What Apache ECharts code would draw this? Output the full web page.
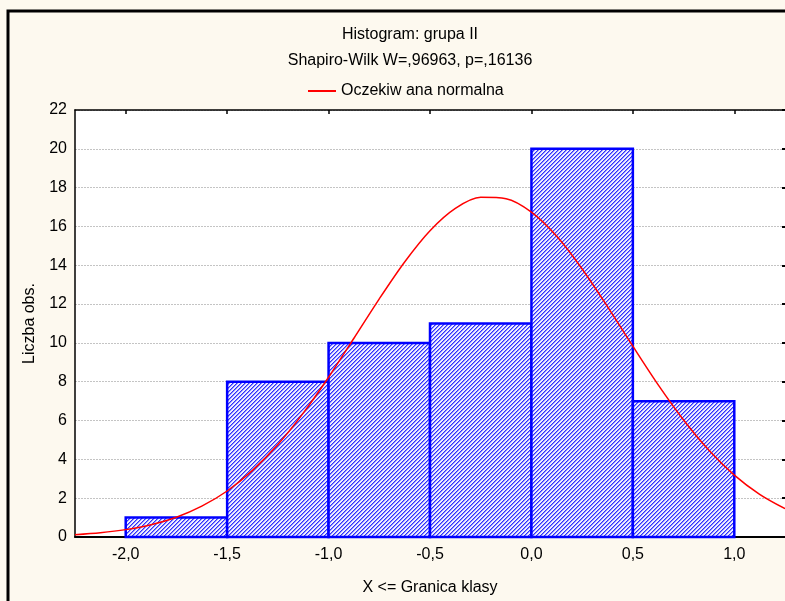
<!DOCTYPE html>
<html>
<head>
<meta charset="utf-8">
<script src="https://cdn.jsdelivr.net/npm/echarts@6/dist/echarts.min.js"></script>
<style>
html, body { margin: 0; padding: 0; background: #fdf9ef; }
#chart1 { width: 785px; height: 601px; }
</style>
</head>
<body>
<div id="chart1"></div>
<script>
// histogram classes (upper bound = "granica klasy")
var binStarts = [-2.0, -1.5, -1.0, -0.5, 0.0, 0.5];
var binEnds = [-1.5, -1.0, -0.5, 0.0, 0.5, 1.0];
var counts = [1, 8, 10, 11, 20, 7];

// expected normal curve
var curveX = [-2.25, -2.125, -2.0, -1.875, -1.75, -1.625, -1.5, -1.375, -1.25, -1.125, -1.0, -0.875,
    -0.75, -0.625, -0.5, -0.375, -0.25, -0.125, 0.0, 0.125, 0.25, 0.375, 0.5, 0.625, 0.75, 0.875,
    1.0, 1.125, 1.25];
var curveY = [0.12, 0.22, 0.38, 0.63, 1.02, 1.59, 2.37, 3.43, 4.76, 6.38, 8.23, 10.24,
    12.27, 14.17, 15.78, 16.93, 17.50, 17.43, 16.74, 15.49, 13.81, 11.87, 9.83, 7.84, 6.03, 4.47,
    3.19, 2.20, 1.46];

var xTicks = [-2.0, -1.5, -1.0, -0.5, 0.0, 0.5, 1.0];
var yTicks = [0, 2, 4, 6, 8, 10, 12, 14, 16, 18, 20, 22];

var chart1 = echarts.init(document.getElementById('chart1'));

// diagonal hatch fill
function makeHatch() {
    var c = document.createElement('canvas');
    c.width = 4;
    c.height = 4;
    var ctx = c.getContext('2d');
    ctx.fillStyle = '#eeeeff';
    ctx.fillRect(0, 0, 4, 4);
    for (var y = 0; y < 4; y++) {
        ctx.fillStyle = '#2f2fff';
        ctx.fillRect((3 - y + 4) % 4, y, 1, 1);
        ctx.fillStyle = '#8c8cff';
        ctx.fillRect((4 - y + 4) % 4, y, 1, 1);
    }
    return c;
}
var hatch = makeHatch();

var binData = [];
for (var i = 0; i < counts.length; i++) {
    binData.push([binStarts[i], binEnds[i], counts[i]]);
}
var curveData = [];
for (var j = 0; j < curveX.length; j++) {
    curveData.push([curveX[j], curveY[j]]);
}

function fmt(v) {
    return v.toFixed(1).replace('.', ',');
}

var font = 'Liberation Sans, Arial, sans-serif';
var fs = 16;
var legendName = 'Oczekiw ana normalna';

var option = {
    backgroundColor: '#fdf9ef',
    animation: false,
    textStyle: { fontFamily: font },
    graphic: [{
        type: 'rect',
        z: -10,
        shape: { x: 8, y: 11, width: 820, height: 640 },
        style: { fill: 'none', stroke: '#000', lineWidth: 3 }
    }],
    title: {
        text: 'Histogram: grupa II',
        subtext: 'Shapiro-Wilk W=,96963, p=,16136',
        left: 405,
        textAlign: 'center',
        top: 22,
        itemGap: 10,
        textStyle: { fontFamily: font, fontSize: fs, fontWeight: 'normal', color: '#000' },
        subtextStyle: { fontFamily: font, fontSize: fs, color: '#000' }
    },
    legend: {
        top: 78,
        left: 303,
        itemWidth: 28,
        itemHeight: 2,
        itemGap: 8,
        textStyle: { fontFamily: font, fontSize: fs, color: '#000' },
        data: [{ name: legendName, icon: 'rect', itemStyle: { color: '#ff0000' } }]
    },
    grid: {
        left: 75,
        right: -3,
        top: 110,
        bottom: 62,
        show: true,
        backgroundColor: '#ffffff',
        borderWidth: 0
    },
    xAxis: [{
        type: 'value',
        min: -2.25,
        max: 1.25,
        position: 'bottom',
        name: 'X <= Granica klasy',
        nameLocation: 'middle',
        nameGap: 43,
        nameTextStyle: { fontFamily: font, fontSize: fs, color: '#000' },
        axisLine: { onZero: false, lineStyle: { color: '#000', width: 2 } },
        axisTick: { show: false },
        axisLabel: {
            customValues: xTicks,
            margin: 10,
            fontFamily: font,
            fontSize: fs,
            color: '#000',
            formatter: fmt
        },
        splitLine: { show: false }
    }, {
        type: 'value',
        min: -2.25,
        max: 1.25,
        position: 'top',
        axisLine: { onZero: false, lineStyle: { color: '#000', width: 1.5 } },
        axisTick: { show: true, inside: true, length: 4, customValues: xTicks, lineStyle: { color: '#000', width: 1.5 } },
        axisLabel: { show: false },
        splitLine: { show: false }
    }],
    yAxis: [{
        type: 'value',
        min: 0,
        max: 22,
        interval: 2,
        position: 'left',
        name: 'Liczba obs.',
        nameLocation: 'middle',
        nameGap: 37,
        nameTextStyle: { fontFamily: font, fontSize: fs, color: '#000' },
        axisLine: { show: true, onZero: false, lineStyle: { color: '#000', width: 1.5 } },
        axisTick: { show: false },
        axisLabel: { margin: 8, fontFamily: font, fontSize: fs, color: '#000' },
        splitLine: { show: true, lineStyle: { color: '#c4c4c4', type: [2, 1], width: 1 } }
    }, {
        type: 'value',
        min: 0,
        max: 22,
        interval: 2,
        position: 'right',
        axisLine: { show: true, onZero: false, lineStyle: { color: '#000', width: 1 } },
        axisTick: { show: true, inside: true, length: 3, lineStyle: { color: '#000', width: 2 } },
        axisLabel: { show: false },
        splitLine: { show: false }
    }],
    series: [{
        name: 'Histogram',
        type: 'custom',
        xAxisIndex: 0,
        yAxisIndex: 0,
        data: binData,
        z: 3,
        renderItem: function (params, api) {
            var p0 = api.coord([api.value(0), api.value(2)]);
            var p1 = api.coord([api.value(1), 0]);
            return {
                type: 'rect',
                shape: { x: p0[0], y: p0[1], width: p1[0] - p0[0], height: p1[1] - p0[1] },
                style: {
                    fill: { image: hatch, repeat: 'repeat' },
                    stroke: '#0000ff',
                    lineWidth: 2.5
                }
            };
        }
    }, {
        name: legendName,
        type: 'line',
        xAxisIndex: 0,
        yAxisIndex: 0,
        data: curveData,
        smooth: 0.3,
        showSymbol: false,
        z: 5,
        lineStyle: { color: '#ff0000', width: 1.5 },
        itemStyle: { color: '#ff0000' }
    }]
};
chart1.setOption(option, true);
</script>
</body>
</html>
